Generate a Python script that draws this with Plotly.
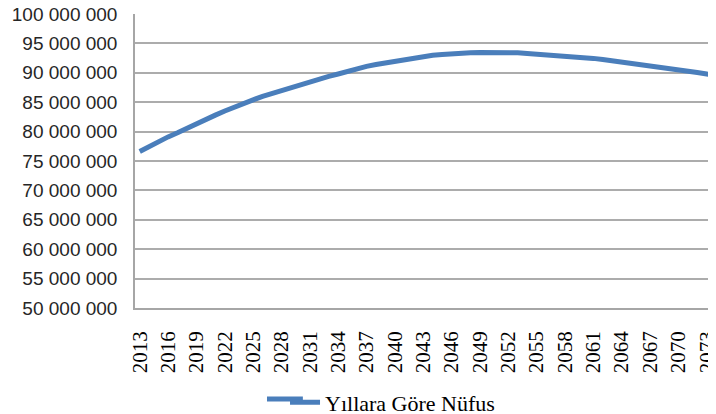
import plotly.graph_objects as go

years = list(range(2013, 2076))
population = [
    76.6, 77.5, 78.3, 79.1, 79.8, 80.6, 81.3, 82.0, 82.8, 83.5,
    84.2, 84.8, 85.4, 86.0, 86.5, 87.0, 87.6, 88.1, 88.6, 89.0,
    89.4, 89.8, 90.3, 90.7, 91.1, 91.4, 91.7, 92.0, 92.3, 92.6,
    92.8, 93.0, 93.1, 93.25, 93.35, 93.4, 93.45, 93.48, 93.47, 93.45,
    93.4, 93.3, 93.2, 93.1, 93.0, 92.9, 92.75, 92.6, 92.45, 92.25,
    92.05, 91.85, 91.65, 91.45, 91.25, 91.05, 90.8, 90.55, 90.3, 90.05,
    89.8, 89.5, 89.2,
]
population = [v * 1_000_000 for v in population]

x_tick_years = list(range(2013, 2076, 3))
y_tick_values = [50_000_000 + 5_000_000 * i for i in range(11)]
y_tick_labels = ["50 000 000", "55 000 000", "60 000 000", "65 000 000", "70 000 000",
                 "75 000 000", "80 000 000", "85 000 000", "90 000 000", "95 000 000",
                 "100 000 000"]
series_name = "Yıllara Göre Nüfus"

SERIF = "Times New Roman, Liberation Serif, serif"
LINE_COLOR = "#4A7EBB"

fig = go.Figure()
fig.add_trace(go.Scatter(
    x=years, y=population, mode="lines", name=series_name,
    line=dict(color=LINE_COLOR, width=5),
))

# lengthen the legend key line to look like the original's longer swatch
fig.add_shape(type="line", xref="paper", yref="paper",
              x0=0.2241, x1=0.285, y0=-0.3095, y1=-0.3095,
              line=dict(color=LINE_COLOR, width=5))

fig.update_layout(
    width=716, height=414,
    margin=dict(l=127, r=0, t=6, b=114, autoexpand=False),
    paper_bgcolor="white", plot_bgcolor="white",
    showlegend=True,
    legend=dict(orientation="h", x=0.2547, xanchor="left", y=-0.25, yanchor="top",
                bgcolor="rgba(0,0,0,0)",
                font=dict(family=SERIF, size=22, color="#000000")),
    xaxis=dict(
        range=[2012.5, 2074.83], tickmode="array", tickvals=x_tick_years,
        ticktext=[str(y) for y in x_tick_years], tickangle=-90,
        showgrid=False, showline=True, linecolor="#A6A6A6", linewidth=1.5,
        ticks="", ticklabelstandoff=13, automargin=False, ticklabeloverflow="allow",
        tickfont=dict(family=SERIF, size=21, color="#000000"),
        zeroline=False,
    ),
    yaxis=dict(
        range=[50_000_000, 100_000_000], tickmode="array", tickvals=y_tick_values,
        ticktext=y_tick_labels, showgrid=True, gridcolor="#ACACAC", gridwidth=1.5,
        showline=True, linecolor="#A6A6A6", linewidth=1.5, ticks="",
        ticklabelstandoff=12, zeroline=False, automargin=False, ticklabeloverflow="allow",
        tickfont=dict(family="Liberation Sans", size=19, color="#262626"),
    ),
)

fig.write_html("out.html")
